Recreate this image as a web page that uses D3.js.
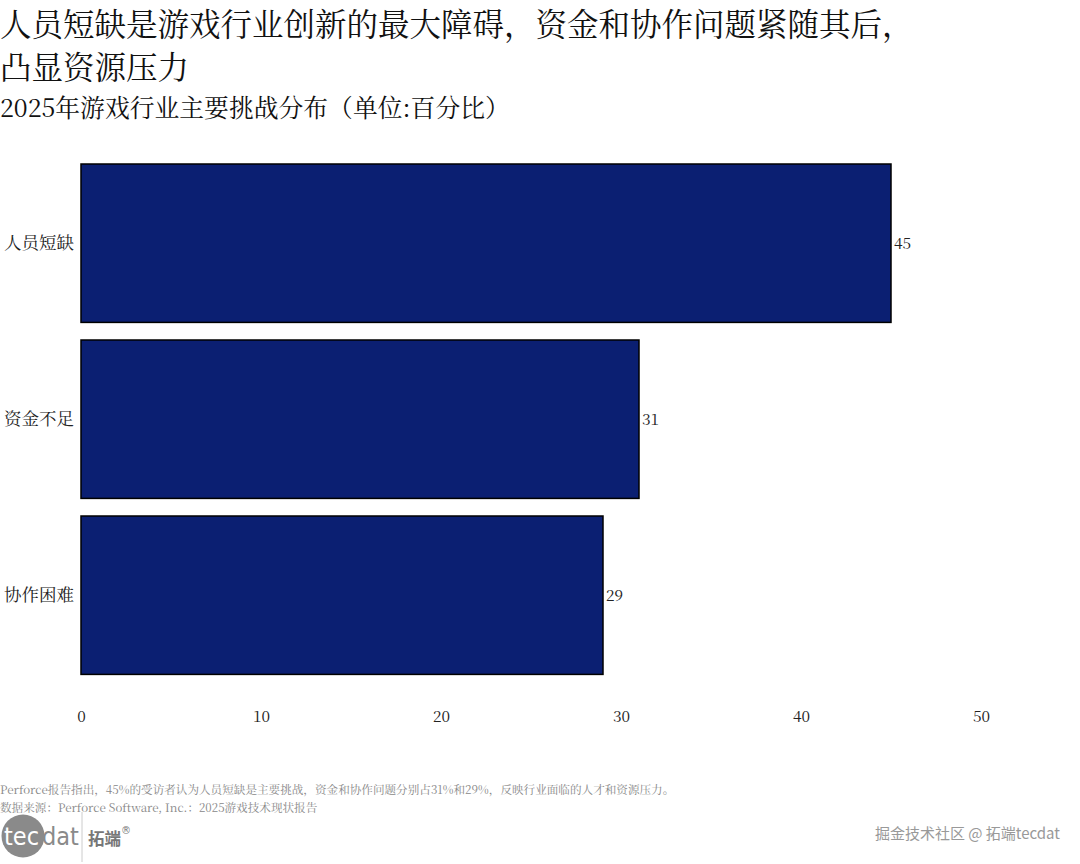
<!DOCTYPE html>
<html><head><meta charset="utf-8">
<script src="https://cdn.jsdelivr.net/npm/d3@7"></script>
<style>
body{margin:0;background:#fff;}
svg{display:block;}
</style></head>
<body>
<svg id="chart" width="1080" height="864"></svg>
<script>
const categories = ["人员短缺", "资金不足", "协作困难"];
const values = [45, 31, 29];
const xTicks = [0, 10, 20, 30, 40, 50];
const titleLines = ["人员短缺是游戏行业创新的最大障碍，资金和协作问题紧随其后，", "凸显资源压力"];
const subtitle = "2025年游戏行业主要挑战分布（单位:百分比）";
const note = "Perforce报告指出，45%的受访者认为人员短缺是主要挑战，资金和协作问题分别占31%和29%，反映行业面临的人才和资源压力。";
const source = "数据来源：Perforce Software, Inc.：2025游戏技术现状报告";

const serif = "'Noto Serif CJK SC','Liberation Serif','DejaVu Serif','Noto Sans CJK SC',serif";
const svg = d3.select("#chart");

const x = d3.scaleLinear().domain([0, 50]).range([81, 981]);
const y = d3.scaleBand().domain(categories).range([155.2, 683.2]).paddingInner(0.1).paddingOuter(0.05);

// title
svg.selectAll("text.title").data(titleLines).join("text")
  .attr("class", "title")
  .attr("x", 0).attr("y", (d, i) => 36 + i * 43)
  .attr("font-family", serif).attr("font-size", 31.5).attr("fill", "#111")
  .text(d => d);
svg.append("text").attr("x", 0).attr("y", 117)
  .attr("font-family", serif).attr("font-size", 24.8).attr("fill", "#111")
  .text(subtitle);

// bars
svg.selectAll("rect.bar").data(values).join("rect")
  .attr("class", "bar")
  .attr("x", x(0))
  .attr("y", (d, i) => y(categories[i]))
  .attr("width", d => x(d) - x(0))
  .attr("height", y.bandwidth())
  .attr("fill", "#0b1f72")
  .attr("stroke", "#000").attr("stroke-width", 1.5);

// value labels
svg.selectAll("text.val").data(values).join("text")
  .attr("class", "val")
  .attr("x", d => x(d) + 3)
  .attr("y", (d, i) => y(categories[i]) + y.bandwidth() / 2)
  .attr("dy", "0.35em")
  .attr("font-family", serif).attr("font-size", 15.5).attr("fill", "#222")
  .text(d => d);

// y axis
const yAxis = d3.axisLeft(y).tickSize(0).tickPadding(7);
const gy = svg.append("g").attr("transform", `translate(${x(0)},0)`).call(yAxis);
gy.select(".domain").remove();
gy.selectAll("text").attr("font-family", serif).attr("font-size", 17.5).attr("fill", "#222");

// x axis
const xAxis = d3.axisBottom(x).tickValues(xTicks).tickSize(0).tickPadding(0);
const gx = svg.append("g").attr("transform", `translate(0,711)`).call(xAxis);
gx.select(".domain").remove();
gx.selectAll("text").attr("font-family", serif).attr("font-size", 15.5).attr("fill", "#222");

// footer
svg.append("text").attr("x", 0).attr("y", 794)
  .attr("font-family", serif).attr("font-size", 11.6).attr("fill", "#888")
  .text(note);
svg.append("text").attr("x", 0).attr("y", 812)
  .attr("font-family", serif).attr("font-size", 11.6).attr("fill", "#888")
  .text(source);

// logo
const logo = svg.append("g");
logo.append("circle").attr("cx", 23).attr("cy", 836).attr("r", 21.5).attr("fill", "#8a8a8a");
logo.append("text").attr("x", 4).attr("y", 845).attr("font-family", "'DejaVu Sans Condensed','DejaVu Sans',sans-serif")
  .attr("font-size", 25).attr("fill", "#fff").text("tec");
logo.append("text").attr("x", 42).attr("y", 845).attr("font-family", "'DejaVu Sans Condensed','DejaVu Sans',sans-serif")
  .attr("font-size", 25).attr("fill", "#8a8a8a").text("dat");
logo.append("line").attr("x1", 82).attr("x2", 82).attr("y1", 812).attr("y2", 862).attr("stroke", "#ccc").attr("stroke-width", 1);
logo.append("text").attr("x", 88).attr("y", 845).attr("font-family", "'Noto Sans CJK SC',sans-serif")
  .attr("font-size", 16.5).attr("font-weight", "bold").attr("fill", "#777").text("拓端");
logo.append("text").attr("x", 121).attr("y", 834).attr("font-family", "'DejaVu Sans',sans-serif")
  .attr("font-size", 10).attr("fill", "#777").text("®");

svg.append("text").attr("x", 1060).attr("y", 839).attr("text-anchor", "end")
  .attr("font-family", "'Noto Sans CJK SC',sans-serif").attr("font-size", 15).attr("fill", "#999")
  .text("掘金技术社区 @ 拓端tecdat");
</script>
</body></html>
